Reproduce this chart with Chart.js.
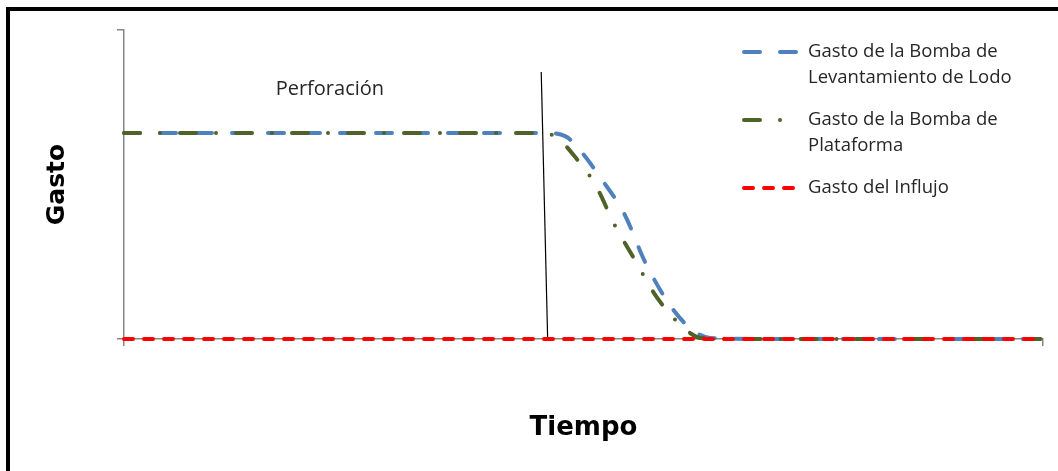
<!DOCTYPE html>
<html>
<head>
<meta charset="utf-8">
<script src="https://cdn.jsdelivr.net/npm/chart.js@4"></script>
<style>
  html, body { margin: 0; padding: 0; background: #fff; }
  #wrap { position: relative; width: 1058px; height: 471px; overflow: hidden; }
  #frame { position: absolute; left: 6px; top: 7px; right: -10px; bottom: -10px;
           border-left: 4px solid #000; border-top: 4px solid #000; pointer-events: none; }
  canvas { position: absolute; left: 0; top: 0; }
</style>
</head>
<body>
<div id="wrap">
  <canvas id="chart" width="1058" height="471"></canvas>
  <div id="frame"></div>
</div>
<script>
// data (time 0..100, flow in relative units, plateau = 1)
const tiempoBomba = [0, 10, 20, 30, 40, 45.8, 48.0, 49.6, 51.8, 54.5, 56.7, 59.4, 61.6, 63.8, 70, 80, 90, 100];
const gastoBomba  = [1, 1, 1, 1, 1, 1, 0.985, 0.917, 0.786, 0.602, 0.374, 0.165, 0.053, 0.005, 0, 0, 0, 0];

const tiempoPlataforma = [0, 10, 20, 30, 40, 45.8, 47.4, 49.1, 51.3, 53.4, 55.6, 57.8, 60.0, 61.6, 62.7, 70, 80, 90, 100];
const gastoPlataforma  = [1, 1, 1, 1, 1, 1, 0.966, 0.883, 0.748, 0.553, 0.383, 0.214, 0.092, 0.029, 0.005, 0, 0, 0, 0];

const tiempoInflujo = [0, 25, 50, 75, 100];
const gastoInflujo  = [0, 0, 0, 0, 0];

// vertical marker where drilling stops
const tiempoMarca = [45.4, 46.1];
const gastoMarca  = [1.296, 0];

const etiquetaPerforacion = { x: 22.4, y: 1.21, text: 'Perforación' };

const legendItems = [
  { lines: ['Gasto de la Bomba de', 'Levantamiento de Lodo'], color: '#4F81BD', dash: [16, 20] },
  { lines: ['Gasto de la Bomba de', 'Plataforma'], color: '#4F6228', dash: [16, 20, 0, 20] },
  { lines: ['Gasto del Influjo'], color: '#FF0000', dash: [9, 11] }
];

const toPoints = (xs, ys) => xs.map((x, i) => ({ x: x, y: ys[i] }));

const textFont = '18.5px "Open Sans"';

const annotations = {
  id: 'annotations',
  afterDraw(chart) {
    const ctx = chart.ctx;
    const xs = chart.scales.x, ys = chart.scales.y;
    ctx.save();
    ctx.fillStyle = '#262626';
    ctx.font = '20px "Open Sans"';
    ctx.textAlign = 'center';
    ctx.textBaseline = 'middle';
    ctx.fillText(etiquetaPerforacion.text, xs.getPixelForValue(etiquetaPerforacion.x), ys.getPixelForValue(etiquetaPerforacion.y));

    // legend drawn by hand (multi-line labels, inside plot area)
    const area = chart.chartArea;
    const lx = area.right - 301;
    let ly = area.top + 22;
    ctx.font = textFont;
    ctx.textAlign = 'left';
    legendItems.forEach(item => {
      ctx.strokeStyle = item.color;
      ctx.lineWidth = 4;
      ctx.lineCap = 'round';
      ctx.setLineDash(item.dash);
      ctx.beginPath();
      ctx.moveTo(lx + 2, ly);
      ctx.lineTo(lx + 57, ly);
      ctx.stroke();
      ctx.setLineDash([]);
      item.lines.forEach((t, i) => {
        ctx.fillText(t, lx + 66, ly + i * 26);
      });
      ly += item.lines.length === 2 ? 68 : 0;
    });
    ctx.restore();
  }
};

new Chart(document.getElementById('chart').getContext('2d'), {
  type: 'line',
  data: {
    datasets: [
      {
        label: 'Gasto del Influjo',
        data: toPoints(tiempoInflujo, gastoInflujo),
        borderColor: '#FF0000',
        borderWidth: 4,
        borderDash: [9, 11],
        borderCapStyle: 'round',
        pointRadius: 0,
        clip: false,
        order: 0
      },
      {
        label: 'Gasto de la Bomba de Plataforma',
        data: toPoints(tiempoPlataforma, gastoPlataforma),
        borderColor: '#4F6228',
        borderWidth: 4,
        borderDash: [16, 20, 0, 20],
        borderCapStyle: 'round',
        cubicInterpolationMode: 'monotone',
        pointRadius: 0,
        clip: false,
        order: 1
      },
      {
        label: 'Gasto de la Bomba de Levantamiento de Lodo',
        data: toPoints(tiempoBomba, gastoBomba),
        borderColor: '#4F81BD',
        borderWidth: 4,
        borderDash: [16, 20],
        borderCapStyle: 'round',
        cubicInterpolationMode: 'monotone',
        pointRadius: 0,
        clip: false,
        order: 2
      },
      {
        label: 'marca',
        data: toPoints(tiempoMarca, gastoMarca),
        borderColor: '#000',
        borderWidth: 1.2,
        pointRadius: 0,
        clip: false,
        order: 3
      }
    ]
  },
  options: {
    responsive: false,
    animation: false,
    layout: { padding: { left: 0, top: 30, right: 15, bottom: 0 } },
    plugins: {
      legend: { display: false },
      tooltip: { enabled: false }
    },
    scales: {
      x: {
        type: 'linear',
        min: 0,
        max: 100,
        ticks: { display: false, stepSize: 100 },
        grid: { drawOnChartArea: false, drawTicks: true, tickLength: 7, color: '#868686', lineWidth: 1.5 },
        border: { color: '#868686', width: 1.5 },
        title: {
          display: true,
          text: 'Tiempo',
          color: '#000',
          font: { family: 'DejaVu Sans', size: 26, weight: 'bold' },
          padding: { top: 0, bottom: 27 }
        },
        afterFit(scale) { scale.height = 132; }
      },
      y: {
        min: 0,
        max: 1.5,
        ticks: { display: false, stepSize: 1.5 },
        grid: { drawOnChartArea: false, drawTicks: true, tickLength: 7, color: '#868686', lineWidth: 1.5 },
        border: { color: '#868686', width: 1.5 },
        title: {
          display: true,
          text: 'Gasto',
          color: '#000',
          font: { family: 'DejaVu Sans', size: 25, weight: 'bold' },
          padding: { top: 42, bottom: 0 }
        },
        afterFit(scale) { scale.width = 124; }
      }
    }
  },
  plugins: [annotations]
});
</script>
</body>
</html>
